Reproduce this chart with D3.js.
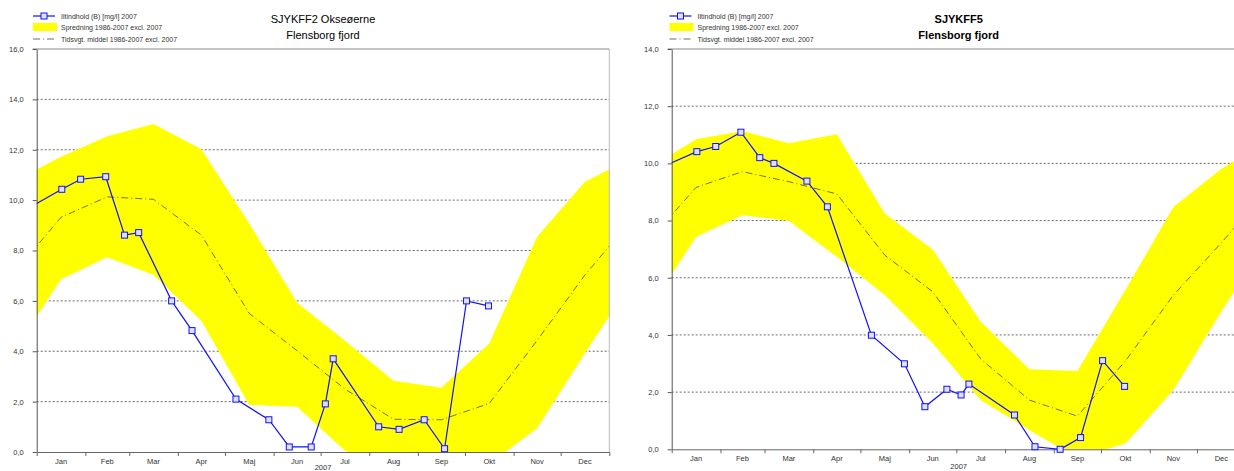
<!DOCTYPE html>
<html>
<head>
<meta charset="utf-8">
<script src="https://cdn.jsdelivr.net/npm/d3@7"></script>
<style>
  body { margin: 0; background: #fff; }
  svg { display: block; font-family: "Liberation Sans", Arial, sans-serif; }
</style>
</head>
<body>
<script>
// month labels on the x axis
const months = ["Jan", "Feb", "Mar", "Apr", "Maj", "Jun", "Jul", "Aug", "Sep", "Okt", "Nov", "Dec"];

// sampling dates 2007 (same for both stations)
const sampleDates = ["2007-01-17", "2007-01-29", "2007-02-14", "2007-02-26", "2007-03-07", "2007-03-28",
  "2007-04-10", "2007-05-08", "2007-05-29", "2007-06-11", "2007-06-25", "2007-07-04", "2007-07-09",
  "2007-08-07", "2007-08-20", "2007-09-05", "2007-09-18", "2007-10-02", "2007-10-16"];

// SJYKFF2 Okseøerne
const ff2Start = 9.87;  // value where the line enters on 1 Jan
const ff2Values = [10.43, 10.83, 10.93, 8.61, 8.71, 6.0, 4.82, 2.10, 1.28, 0.20, 0.20, 1.91, 3.70,
  1.00, 0.90, 1.28, 0.13, 6.0, 5.80];
const ff2Upper = [11.72, 12.54, 13.02, 12.02, 9.07, 5.93, 4.42, 2.83, 2.55, 4.31, 8.55, 10.73];
const ff2Lower = [6.86, 7.73, 7.03, 5.21, 1.87, 1.80, 0.05, -0.8, -0.8, -0.48, 0.94, 3.93];
const ff2Mean = [9.32, 10.13, 10.03, 8.61, 5.5, 4.02, 2.5, 1.30, 1.28, 1.93, 4.43, 7.03];
const ff2Ticks = [0, 2, 4, 6, 8, 10, 12, 14, 16];

// SJYKFF5
const ff5Start = 10.02;
const ff5Values = [10.41, 10.59, 11.09, 10.20, 10.0, 9.38, 8.48, 3.99, 2.99, 1.49, 2.10, 1.90, 2.28,
  1.20, 0.09, 0.0, 0.41, 3.10, 2.20];
const ff5Upper = [10.84, 11.13, 10.70, 11.02, 8.25, 6.99, 4.46, 2.80, 2.74, 5.57, 8.47, 9.8];
const ff5Lower = [7.43, 8.19, 7.99, 6.73, 5.40, 3.71, 1.72, 0.67, -0.3, 0.2, 2.07, 4.82];
const ff5Mean = [9.16, 9.71, 9.36, 8.93, 6.79, 5.51, 3.16, 1.72, 1.16, 3.09, 5.39, 7.22];
const ff5Ticks = [0, 2, 4, 6, 8, 10, 12, 14];

const legendLabels = ["Iltindhold (B) [mg/l] 2007", "Spredning 1986-2007 excl. 2007", "Tidsvgt. middel 1986-2007 excl. 2007"];
const yearLabel = "2007";

const W = 1234, H = 471;
const svg = d3.select("body").append("svg").attr("width", W).attr("height", H);

const yearStart = new Date(Date.UTC(2007, 0, 1));
const yearEnd = new Date(Date.UTC(2008, 0, 1));
const parse = d3.utcParse("%Y-%m-%d");
const fmt = d => d3.format(".1f")(d).replace(".", ",");

function midMonth(y, m) {
  let a = new Date(Date.UTC(y, m, 1)), b = new Date(Date.UTC(y, m + 1, 1));
  return new Date((+a + +b) / 2);
}

// monthly climatology with one month wrapped on each side
function monthly(vals) {
  let pts = vals.map((v, i) => ({ date: midMonth(2007, i), v }));
  pts.unshift({ date: midMonth(2006, 11), v: vals[11] });
  pts.push({ date: midMonth(2008, 0), v: vals[0] });
  return pts;
}

function drawChart(cfg, idx) {
  const g = svg.append("g").attr("transform", `translate(${cfg.left},0)`);
  const x = d3.scaleUtc().domain([yearStart, yearEnd]).range([0, cfg.width]);
  const y = d3.scaleLinear().domain([0, cfg.yMax]).range([cfg.bottom, cfg.top]);

  const clipId = "clip" + idx;
  g.append("clipPath").attr("id", clipId)
    .append("rect").attr("x", 0).attr("y", cfg.top).attr("width", cfg.width).attr("height", cfg.bottom - cfg.top);

  // dotted grid
  g.append("g").selectAll("line")
    .data(cfg.ticks.filter(t => t > 0 && t < cfg.yMax))
    .join("line")
    .attr("x1", 0).attr("x2", cfg.width)
    .attr("y1", d => y(d)).attr("y2", d => y(d))
    .attr("stroke", "#444").attr("stroke-width", 0.8)
    .attr("stroke-dasharray", "2,2");

  // spread band
  const up = monthly(cfg.upper), lo = monthly(cfg.lower);
  const band = up.map((d, i) => ({ date: d.date, hi: d.v, lo: lo[i].v }));
  g.append("path")
    .datum(band)
    .attr("clip-path", `url(#${clipId})`)
    .attr("fill", "#ffff00")
    .attr("d", d3.area().x(d => x(d.date)).y0(d => y(d.lo)).y1(d => y(d.hi)));

  // time-weighted mean
  g.append("path")
    .datum(monthly(cfg.mean))
    .attr("clip-path", `url(#${clipId})`)
    .attr("fill", "none")
    .attr("stroke", "#4a4a30").attr("stroke-width", 0.8)
    .attr("stroke-dasharray", "7,3,1,3")
    .attr("d", d3.line().x(d => x(d.date)).y(d => y(d.v)));

  // frame: top and right
  g.append("line").attr("x1", -4).attr("x2", cfg.width).attr("y1", cfg.top).attr("y2", cfg.top)
    .attr("stroke", "#888").attr("stroke-width", 1);
  g.append("line").attr("x1", cfg.width).attr("x2", cfg.width).attr("y1", cfg.top).attr("y2", cfg.bottom)
    .attr("stroke", "#bbb").attr("stroke-width", 1);

  // axes
  const yAxis = g.append("g")
    .call(d3.axisLeft(y).tickValues(cfg.ticks).tickSize(4).tickSizeOuter(0).tickPadding(9).tickFormat(fmt));
  yAxis.select(".domain").attr("stroke", "#555");
  yAxis.selectAll(".tick line").attr("stroke", "#555");
  yAxis.selectAll("text").attr("font-size", 7.5).attr("fill", "#333").attr("font-family", "Liberation Sans, Arial");

  const monthTicks = d3.utcMonth.range(yearStart, new Date(+yearEnd + 1));
  const xAxis = g.append("g").attr("transform", `translate(0,${cfg.bottom})`)
    .call(d3.axisBottom(x).tickValues(monthTicks).tickSize(4).tickSizeOuter(0).tickFormat(""));
  xAxis.select(".domain").attr("stroke", "#666");
  xAxis.selectAll(".tick line").attr("stroke", "#666");

  g.append("g").selectAll("text")
    .data(months)
    .join("text")
    .attr("x", (d, i) => x(midMonth(2007, i)))
    .attr("y", cfg.bottom + 12)
    .attr("text-anchor", "middle")
    .attr("font-size", 7.5).attr("fill", "#333")
    .text(d => d);

  g.append("text")
    .attr("x", cfg.width / 2).attr("y", cfg.bottom + cfg.yearDy)
    .attr("text-anchor", "middle").attr("font-size", 7.5).attr("fill", "#333")
    .text(yearLabel);

  // observations 2007
  const obs = cfg.values.map((v, i) => ({ date: parse(sampleDates[i]), v }));
  const lineData = [{ date: yearStart, v: cfg.start }].concat(obs);
  g.append("path")
    .datum(lineData)
    .attr("fill", "none")
    .attr("stroke", "#1010ff").attr("stroke-width", 1.2)
    .attr("d", d3.line().x(d => x(d.date)).y(d => y(d.v)));

  g.append("g").selectAll("rect")
    .data(obs)
    .join("rect")
    .attr("x", d => x(d.date) - 3).attr("y", d => y(d.v) - 3)
    .attr("width", 6).attr("height", 6)
    .attr("fill", "#e0e0ff").attr("stroke", "#1010ff").attr("stroke-width", 1);

  // title
  const title = g.append("text")
    .attr("text-anchor", "middle")
    .attr("font-size", 11).attr("fill", "#000")
    .attr("font-weight", cfg.bold ? "bold" : "normal");
  title.selectAll("tspan").data(cfg.title).join("tspan")
    .attr("x", cfg.width / 2)
    .attr("y", (d, i) => 23 + i * 16)
    .text(d => d);

  // legend
  const lg = svg.append("g").attr("transform", `translate(${cfg.legendX},0)`);
  lg.append("line").attr("x1", 0).attr("x2", 22).attr("y1", 16).attr("y2", 16)
    .attr("stroke", "#1010ff").attr("stroke-width", 1.2);
  lg.append("rect").attr("x", 8).attr("y", 13).attr("width", 6).attr("height", 6)
    .attr("fill", "#e0e0ff").attr("stroke", "#1010ff");
  lg.append("rect").attr("x", 0).attr("y", 23).attr("width", 24).attr("height", 8).attr("fill", "#ffff00");
  lg.append("line").attr("x1", 0).attr("x2", 22).attr("y1", 39).attr("y2", 39)
    .attr("stroke", "#4a4a30").attr("stroke-width", 0.8).attr("stroke-dasharray", "7,3,1,3");
  lg.selectAll("text.leg").data(legendLabels).join("text")
    .attr("class", "leg")
    .attr("x", 28).attr("y", (d, i) => [18.5, 29.5, 41.5][i])
    .attr("font-size", 7).attr("fill", "#333")
    .text(d => d);
}

const charts = [
  { left: 36.7, width: 572.6, top: 49, bottom: 452, yMax: 16, ticks: ff2Ticks, yearDy: 18,
    title: ["SJYKFF2 Okseøerne", "Flensborg fjord"], bold: false, legendX: 33,
    start: ff2Start, values: ff2Values, upper: ff2Upper, lower: ff2Lower, mean: ff2Mean },
  { left: 671.7, width: 574, top: 49, bottom: 449.3, yMax: 14, ticks: ff5Ticks, yearDy: 20,
    title: ["SJYKFF5", "Flensborg fjord"], bold: true, legendX: 669.5,
    start: ff5Start, values: ff5Values, upper: ff5Upper, lower: ff5Lower, mean: ff5Mean }
];

charts.forEach(drawChart);
</script>
</body>
</html>
